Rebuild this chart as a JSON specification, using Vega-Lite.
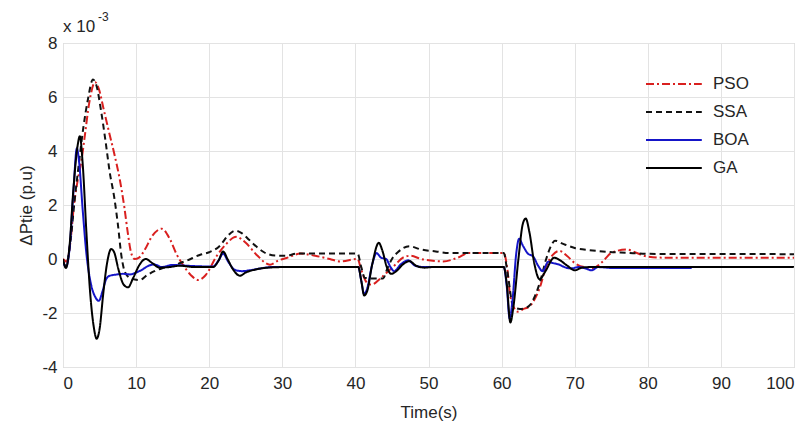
{
  "$schema": "https://vega.github.io/schema/vega-lite/v6.json",
  "width": 731,
  "height": 324,
  "autosize": {"type": "none"},
  "padding": {"left": 63, "top": 43, "right": 16, "bottom": 59},
  "background": "white",
  "config": {
    "view": {"stroke": "#c4c4c4", "strokeWidth": 1},
    "font": "Liberation Sans",
    "axis": {
      "labelFont": "Liberation Sans",
      "titleFont": "Liberation Sans",
      "labelFontSize": 17,
      "titleFontSize": 17,
      "labelColor": "#262626",
      "titleColor": "#262626",
      "titleFontWeight": "normal",
      "gridColor": "#e3e3e3",
      "gridWidth": 1,
      "domain": false,
      "ticks": false,
      "labelExpr": "datum.value < 0 ? '-' + abs(datum.value) : '' + datum.value"
    }
  },
  "layer": [
    {
      "data": {
        "values": [
          {"alg": "PSO", "t": 0, "v": 0}, {"alg": "PSO", "t": 0.5, "v": -0.1}, {"alg": "PSO", "t": 1.0, "v": 0.6}, {"alg": "PSO", "t": 1.5, "v": 2.0}, {"alg": "PSO", "t": 2.0, "v": 2.9}, {"alg": "PSO", "t": 2.5, "v": 3.6}, {"alg": "PSO", "t": 3.0, "v": 4.6}, {"alg": "PSO", "t": 3.6, "v": 5.8}, {"alg": "PSO", "t": 4.4, "v": 6.55}, {"alg": "PSO", "t": 4.9, "v": 6.3}, {"alg": "PSO", "t": 5.6, "v": 5.5}, {"alg": "PSO", "t": 6.3, "v": 4.7}, {"alg": "PSO", "t": 7.1, "v": 3.8}, {"alg": "PSO", "t": 7.8, "v": 2.9}, {"alg": "PSO", "t": 8.4, "v": 1.9}, {"alg": "PSO", "t": 8.9, "v": 0.9}, {"alg": "PSO", "t": 9.3, "v": 0.25}, {"alg": "PSO", "t": 9.8, "v": 0.0}, {"alg": "PSO", "t": 10.4, "v": 0.05}, {"alg": "PSO", "t": 11.2, "v": 0.35}, {"alg": "PSO", "t": 12.2, "v": 0.85}, {"alg": "PSO", "t": 13.5, "v": 1.12}, {"alg": "PSO", "t": 14.6, "v": 0.75}, {"alg": "PSO", "t": 15.5, "v": 0.2}, {"alg": "PSO", "t": 16.4, "v": -0.21}, {"alg": "PSO", "t": 17.5, "v": -0.6}, {"alg": "PSO", "t": 18.5, "v": -0.78}, {"alg": "PSO", "t": 19.5, "v": -0.6}, {"alg": "PSO", "t": 21, "v": 0.1}, {"alg": "PSO", "t": 22.3, "v": 0.55}, {"alg": "PSO", "t": 23.7, "v": 0.82}, {"alg": "PSO", "t": 25, "v": 0.6}, {"alg": "PSO", "t": 26.5, "v": 0.15}, {"alg": "PSO", "t": 28.3, "v": -0.21}, {"alg": "PSO", "t": 29.5, "v": -0.05}, {"alg": "PSO", "t": 30.6, "v": 0.04}, {"alg": "PSO", "t": 32.5, "v": 0.2}, {"alg": "PSO", "t": 34.5, "v": 0.12}, {"alg": "PSO", "t": 36.5, "v": 0.0}, {"alg": "PSO", "t": 37.9, "v": -0.09}, {"alg": "PSO", "t": 40.3, "v": 0.0}, {"alg": "PSO", "t": 40.8, "v": -0.4}, {"alg": "PSO", "t": 41.5, "v": -0.85}, {"alg": "PSO", "t": 42.2, "v": -0.95}, {"alg": "PSO", "t": 43.3, "v": -0.75}, {"alg": "PSO", "t": 44.3, "v": -0.5}, {"alg": "PSO", "t": 45.5, "v": -0.2}, {"alg": "PSO", "t": 46.5, "v": 0.05}, {"alg": "PSO", "t": 47.5, "v": 0.12}, {"alg": "PSO", "t": 49, "v": 0.0}, {"alg": "PSO", "t": 52, "v": -0.09}, {"alg": "PSO", "t": 54, "v": 0.05}, {"alg": "PSO", "t": 55.5, "v": 0.22}, {"alg": "PSO", "t": 60.3, "v": 0.22}, {"alg": "PSO", "t": 60.8, "v": -0.4}, {"alg": "PSO", "t": 61.2, "v": -1.4}, {"alg": "PSO", "t": 62.2, "v": -1.95}, {"alg": "PSO", "t": 63, "v": -1.85}, {"alg": "PSO", "t": 63.8, "v": -1.76}, {"alg": "PSO", "t": 64.5, "v": -1.5}, {"alg": "PSO", "t": 65.2, "v": -1.08}, {"alg": "PSO", "t": 66.1, "v": -0.27}, {"alg": "PSO", "t": 67, "v": 0.15}, {"alg": "PSO", "t": 67.9, "v": 0.3}, {"alg": "PSO", "t": 69, "v": 0.1}, {"alg": "PSO", "t": 70, "v": -0.15}, {"alg": "PSO", "t": 71.3, "v": -0.3}, {"alg": "PSO", "t": 72.5, "v": -0.33}, {"alg": "PSO", "t": 73.8, "v": -0.1}, {"alg": "PSO", "t": 75, "v": 0.22}, {"alg": "PSO", "t": 77.1, "v": 0.35}, {"alg": "PSO", "t": 78.5, "v": 0.22}, {"alg": "PSO", "t": 79.8, "v": 0.1}, {"alg": "PSO", "t": 82, "v": 0.05}, {"alg": "PSO", "t": 100, "v": 0.05},

          {"alg": "SSA", "t": 0, "v": -0.1}, {"alg": "SSA", "t": 0.4, "v": -0.25}, {"alg": "SSA", "t": 1.0, "v": 0.6}, {"alg": "SSA", "t": 1.6, "v": 2.2}, {"alg": "SSA", "t": 2.2, "v": 3.6}, {"alg": "SSA", "t": 2.8, "v": 4.9}, {"alg": "SSA", "t": 3.4, "v": 5.9}, {"alg": "SSA", "t": 4.1, "v": 6.65}, {"alg": "SSA", "t": 4.6, "v": 6.4}, {"alg": "SSA", "t": 5.2, "v": 5.5}, {"alg": "SSA", "t": 5.8, "v": 4.4}, {"alg": "SSA", "t": 6.4, "v": 3.2}, {"alg": "SSA", "t": 7.0, "v": 2.3}, {"alg": "SSA", "t": 7.5, "v": 1.3}, {"alg": "SSA", "t": 8.0, "v": 0.1}, {"alg": "SSA", "t": 8.5, "v": -0.5}, {"alg": "SSA", "t": 9.3, "v": -0.72}, {"alg": "SSA", "t": 10.5, "v": -0.78}, {"alg": "SSA", "t": 11.5, "v": -0.6}, {"alg": "SSA", "t": 12.5, "v": -0.45}, {"alg": "SSA", "t": 13.7, "v": -0.33}, {"alg": "SSA", "t": 15.5, "v": -0.2}, {"alg": "SSA", "t": 17, "v": -0.05}, {"alg": "SSA", "t": 18.7, "v": 0.15}, {"alg": "SSA", "t": 20, "v": 0.25}, {"alg": "SSA", "t": 21.5, "v": 0.5}, {"alg": "SSA", "t": 22.5, "v": 0.85}, {"alg": "SSA", "t": 23.6, "v": 1.05}, {"alg": "SSA", "t": 24.5, "v": 0.95}, {"alg": "SSA", "t": 25.5, "v": 0.7}, {"alg": "SSA", "t": 26.5, "v": 0.45}, {"alg": "SSA", "t": 27.5, "v": 0.25}, {"alg": "SSA", "t": 29, "v": 0.13}, {"alg": "SSA", "t": 30.5, "v": 0.12}, {"alg": "SSA", "t": 32, "v": 0.2}, {"alg": "SSA", "t": 40.3, "v": 0.2}, {"alg": "SSA", "t": 40.8, "v": -0.3}, {"alg": "SSA", "t": 41.3, "v": -0.7}, {"alg": "SSA", "t": 42.5, "v": -0.72}, {"alg": "SSA", "t": 43.8, "v": -0.72}, {"alg": "SSA", "t": 44.3, "v": -0.4}, {"alg": "SSA", "t": 45, "v": 0.0}, {"alg": "SSA", "t": 45.8, "v": 0.25}, {"alg": "SSA", "t": 47.4, "v": 0.47}, {"alg": "SSA", "t": 49, "v": 0.35}, {"alg": "SSA", "t": 51, "v": 0.28}, {"alg": "SSA", "t": 53, "v": 0.22}, {"alg": "SSA", "t": 60.3, "v": 0.22}, {"alg": "SSA", "t": 60.8, "v": -0.5}, {"alg": "SSA", "t": 61.6, "v": -1.76}, {"alg": "SSA", "t": 62.5, "v": -1.85}, {"alg": "SSA", "t": 63.4, "v": -1.8}, {"alg": "SSA", "t": 63.9, "v": -1.7}, {"alg": "SSA", "t": 64.6, "v": -1.35}, {"alg": "SSA", "t": 65.2, "v": -0.9}, {"alg": "SSA", "t": 66.1, "v": 0.0}, {"alg": "SSA", "t": 66.7, "v": 0.45}, {"alg": "SSA", "t": 67.3, "v": 0.68}, {"alg": "SSA", "t": 68.5, "v": 0.55}, {"alg": "SSA", "t": 70, "v": 0.41}, {"alg": "SSA", "t": 72, "v": 0.33}, {"alg": "SSA", "t": 74.8, "v": 0.26}, {"alg": "SSA", "t": 77, "v": 0.23}, {"alg": "SSA", "t": 80.3, "v": 0.19}, {"alg": "SSA", "t": 100, "v": 0.18},

          {"alg": "BOA", "t": 0, "v": -0.1}, {"alg": "BOA", "t": 0.4, "v": -0.3}, {"alg": "BOA", "t": 0.9, "v": 0.4}, {"alg": "BOA", "t": 1.4, "v": 2.4}, {"alg": "BOA", "t": 1.9, "v": 4.1}, {"alg": "BOA", "t": 2.2, "v": 3.6}, {"alg": "BOA", "t": 2.7, "v": 1.8}, {"alg": "BOA", "t": 3.2, "v": 0.2}, {"alg": "BOA", "t": 3.8, "v": -0.9}, {"alg": "BOA", "t": 4.4, "v": -1.4}, {"alg": "BOA", "t": 4.9, "v": -1.55}, {"alg": "BOA", "t": 5.4, "v": -1.2}, {"alg": "BOA", "t": 5.9, "v": -0.75}, {"alg": "BOA", "t": 6.4, "v": -0.62}, {"alg": "BOA", "t": 7.2, "v": -0.58}, {"alg": "BOA", "t": 8.2, "v": -0.55}, {"alg": "BOA", "t": 9.2, "v": -0.57}, {"alg": "BOA", "t": 10.0, "v": -0.5}, {"alg": "BOA", "t": 10.8, "v": -0.4}, {"alg": "BOA", "t": 11.7, "v": -0.25}, {"alg": "BOA", "t": 12.5, "v": -0.2}, {"alg": "BOA", "t": 13.5, "v": -0.3}, {"alg": "BOA", "t": 15, "v": -0.22}, {"alg": "BOA", "t": 17, "v": -0.25}, {"alg": "BOA", "t": 20.5, "v": -0.28}, {"alg": "BOA", "t": 21.3, "v": -0.05}, {"alg": "BOA", "t": 21.9, "v": 0.2}, {"alg": "BOA", "t": 22.6, "v": -0.1}, {"alg": "BOA", "t": 23.5, "v": -0.4}, {"alg": "BOA", "t": 24.5, "v": -0.45}, {"alg": "BOA", "t": 25.5, "v": -0.42}, {"alg": "BOA", "t": 27, "v": -0.35}, {"alg": "BOA", "t": 28.5, "v": -0.3}, {"alg": "BOA", "t": 40.4, "v": -0.3}, {"alg": "BOA", "t": 40.8, "v": -0.8}, {"alg": "BOA", "t": 41.2, "v": -1.3}, {"alg": "BOA", "t": 41.6, "v": -1.1}, {"alg": "BOA", "t": 42.3, "v": -0.2}, {"alg": "BOA", "t": 42.9, "v": 0.22}, {"alg": "BOA", "t": 43.5, "v": 0.05}, {"alg": "BOA", "t": 44.2, "v": 0.0}, {"alg": "BOA", "t": 44.8, "v": -0.3}, {"alg": "BOA", "t": 45.3, "v": -0.45}, {"alg": "BOA", "t": 46.2, "v": -0.2}, {"alg": "BOA", "t": 47.2, "v": -0.05}, {"alg": "BOA", "t": 48.2, "v": -0.25}, {"alg": "BOA", "t": 49.5, "v": -0.3}, {"alg": "BOA", "t": 60.3, "v": -0.3}, {"alg": "BOA", "t": 60.7, "v": -1.0}, {"alg": "BOA", "t": 61.1, "v": -2.2}, {"alg": "BOA", "t": 61.5, "v": -1.5}, {"alg": "BOA", "t": 62.0, "v": 0.2}, {"alg": "BOA", "t": 62.4, "v": 0.75}, {"alg": "BOA", "t": 62.9, "v": 0.5}, {"alg": "BOA", "t": 63.6, "v": 0.2}, {"alg": "BOA", "t": 64.3, "v": 0.1}, {"alg": "BOA", "t": 65.0, "v": -0.25}, {"alg": "BOA", "t": 65.6, "v": -0.45}, {"alg": "BOA", "t": 66.4, "v": -0.1}, {"alg": "BOA", "t": 67.0, "v": -0.15}, {"alg": "BOA", "t": 67.8, "v": -0.2}, {"alg": "BOA", "t": 68.6, "v": -0.3}, {"alg": "BOA", "t": 69.5, "v": -0.35}, {"alg": "BOA", "t": 70.5, "v": -0.3}, {"alg": "BOA", "t": 71.5, "v": -0.35}, {"alg": "BOA", "t": 72.3, "v": -0.42}, {"alg": "BOA", "t": 73.2, "v": -0.3}, {"alg": "BOA", "t": 75, "v": -0.33}, {"alg": "BOA", "t": 86, "v": -0.33},

          {"alg": "GA", "t": 0, "v": 0}, {"alg": "GA", "t": 0.4, "v": -0.33}, {"alg": "GA", "t": 0.9, "v": 0.5}, {"alg": "GA", "t": 1.4, "v": 2.5}, {"alg": "GA", "t": 2.0, "v": 4.2}, {"alg": "GA", "t": 2.3, "v": 4.55}, {"alg": "GA", "t": 2.7, "v": 3.5}, {"alg": "GA", "t": 3.2, "v": 1.0}, {"alg": "GA", "t": 3.7, "v": -1.2}, {"alg": "GA", "t": 4.2, "v": -2.5}, {"alg": "GA", "t": 4.6, "v": -2.95}, {"alg": "GA", "t": 5.0, "v": -2.6}, {"alg": "GA", "t": 5.5, "v": -1.3}, {"alg": "GA", "t": 6.0, "v": -0.2}, {"alg": "GA", "t": 6.6, "v": 0.37}, {"alg": "GA", "t": 7.0, "v": 0.25}, {"alg": "GA", "t": 7.6, "v": -0.4}, {"alg": "GA", "t": 8.3, "v": -0.95}, {"alg": "GA", "t": 8.9, "v": -1.05}, {"alg": "GA", "t": 9.6, "v": -0.7}, {"alg": "GA", "t": 10.5, "v": -0.2}, {"alg": "GA", "t": 11.3, "v": 0.0}, {"alg": "GA", "t": 12.2, "v": -0.15}, {"alg": "GA", "t": 13.2, "v": -0.32}, {"alg": "GA", "t": 14.5, "v": -0.3}, {"alg": "GA", "t": 16, "v": -0.25}, {"alg": "GA", "t": 18, "v": -0.3}, {"alg": "GA", "t": 20.5, "v": -0.3}, {"alg": "GA", "t": 21.3, "v": -0.05}, {"alg": "GA", "t": 21.9, "v": 0.28}, {"alg": "GA", "t": 22.5, "v": 0.0}, {"alg": "GA", "t": 23.3, "v": -0.4}, {"alg": "GA", "t": 24.2, "v": -0.62}, {"alg": "GA", "t": 25, "v": -0.5}, {"alg": "GA", "t": 26.5, "v": -0.38}, {"alg": "GA", "t": 28, "v": -0.32}, {"alg": "GA", "t": 30, "v": -0.3}, {"alg": "GA", "t": 40.4, "v": -0.3}, {"alg": "GA", "t": 40.8, "v": -0.8}, {"alg": "GA", "t": 41.2, "v": -1.35}, {"alg": "GA", "t": 41.6, "v": -1.2}, {"alg": "GA", "t": 42.3, "v": -0.2}, {"alg": "GA", "t": 43.2, "v": 0.6}, {"alg": "GA", "t": 43.7, "v": 0.3}, {"alg": "GA", "t": 44.3, "v": -0.3}, {"alg": "GA", "t": 44.9, "v": -0.55}, {"alg": "GA", "t": 45.6, "v": -0.45}, {"alg": "GA", "t": 46.5, "v": -0.2}, {"alg": "GA", "t": 47.4, "v": -0.08}, {"alg": "GA", "t": 48.3, "v": -0.25}, {"alg": "GA", "t": 49.5, "v": -0.32}, {"alg": "GA", "t": 50.5, "v": -0.3}, {"alg": "GA", "t": 60.3, "v": -0.3}, {"alg": "GA", "t": 60.7, "v": -0.9}, {"alg": "GA", "t": 61.2, "v": -2.35}, {"alg": "GA", "t": 61.6, "v": -1.8}, {"alg": "GA", "t": 62.3, "v": 0.0}, {"alg": "GA", "t": 62.9, "v": 1.3}, {"alg": "GA", "t": 63.3, "v": 1.5}, {"alg": "GA", "t": 63.8, "v": 1.0}, {"alg": "GA", "t": 64.5, "v": -0.2}, {"alg": "GA", "t": 65.2, "v": -0.75}, {"alg": "GA", "t": 66, "v": -0.45}, {"alg": "GA", "t": 67.2, "v": 0.05}, {"alg": "GA", "t": 68, "v": -0.05}, {"alg": "GA", "t": 69, "v": -0.25}, {"alg": "GA", "t": 70, "v": -0.42}, {"alg": "GA", "t": 71, "v": -0.32}, {"alg": "GA", "t": 72, "v": -0.3}, {"alg": "GA", "t": 100, "v": -0.3}
        ]
      },
      "mark": {"type": "line", "strokeWidth": 2, "interpolate": "monotone", "clip": true},
      "encoding": {
        "x": {
          "field": "t", "type": "quantitative",
          "scale": {"domain": [0, 100], "nice": false, "zero": false},
          "axis": {"values": [0, 10, 20, 30, 40, 50, 60, 70, 80, 90, 100], "title": "Time(s)", "labelPadding": 8, "titlePadding": 13, "grid": true}
        },
        "y": {
          "field": "v", "type": "quantitative",
          "scale": {"domain": [-4, 8], "nice": false, "zero": false},
          "axis": {"values": [-4, -2, 0, 2, 4, 6, 8], "title": "ΔPtie (p.u)", "labelPadding": 6, "titlePadding": 6, "grid": true}
        },
        "color": {
          "field": "alg", "type": "nominal",
          "scale": {"domain": ["PSO", "SSA", "BOA", "GA"], "range": ["#d9201f", "#111111", "#1515c8", "#000000"]},
          "legend": {
            "orient": "none", "legendX": 582, "legendY": 31, "title": null,
            "symbolType": "M-1,0H5.2", "symbolSize": 324, "symbolStrokeWidth": 2,
            "labelFont": "Liberation Sans", "labelFontSize": 17, "labelColor": "#262626",
            "labelOffset": 48, "rowPadding": 10, "padding": 0
          }
        },
        "strokeDash": {
          "field": "alg", "type": "nominal",
          "scale": {"domain": ["PSO", "SSA", "BOA", "GA"], "range": [[8, 3, 2, 3], [6, 4], [1, 0], [1, 0]]},
          "legend": null
        }
      }
    },
    {
      "data": {"values": [{"label": "x 10"}]},
      "mark": {"type": "text", "align": "left", "baseline": "alphabetic", "dx": 0, "dy": -11, "fontSize": 17, "font": "Liberation Sans", "color": "#262626"},
      "encoding": {"x": {"datum": 0}, "y": {"datum": 8}, "text": {"field": "label"}}
    },
    {
      "data": {"values": [{"label": "-3"}]},
      "mark": {"type": "text", "align": "left", "baseline": "alphabetic", "dx": 35, "dy": -22, "fontSize": 12, "font": "Liberation Sans", "color": "#262626"},
      "encoding": {"x": {"datum": 0}, "y": {"datum": 8}, "text": {"field": "label"}}
    }
  ]
}
